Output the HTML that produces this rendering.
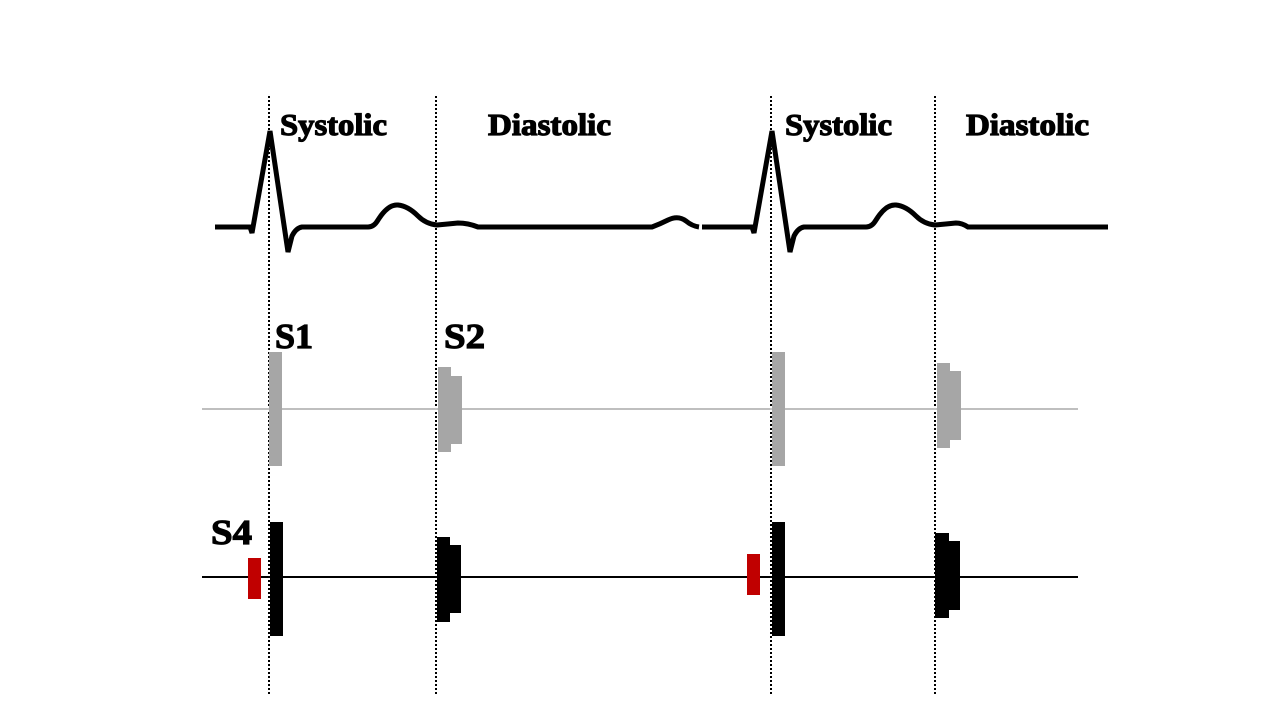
<!DOCTYPE html>
<html><head><meta charset="utf-8"><style>html,body{margin:0;padding:0;background:#fff;}svg{display:block}</style></head>
<body>
<svg width="1280" height="720" viewBox="0 0 1280 720" xmlns="http://www.w3.org/2000/svg">
<g stroke="#000" stroke-width="2" stroke-dasharray="2,2">
<line x1="269" y1="96" x2="269" y2="694"/>
<line x1="436" y1="96" x2="436" y2="694"/>
<line x1="771" y1="96" x2="771" y2="694"/>
<line x1="935" y1="96" x2="935" y2="694"/>
</g>
<g fill="none" stroke="#000" stroke-width="5" stroke-linejoin="miter">
<path d="M215,227 L250,227 L252,233 L270,131 L288,252 L292,236 Q296,228 302,227 L368,227 Q374,227 378,220 Q388,204 398,205 Q408,206 418,216 Q426,224 437,225 Q448,224 458,223 Q468,223 478,227 L652,227 Q660,224 668,220 Q678,215 686,221 Q692,226 699,227"/>
<path d="M702,227 L752,227 L754,233 L772,131 L790,252 L794,236 Q798,228 804,227 L866,227 Q872,227 876,220 Q886,204 896,205 Q906,206 916,216 Q924,224 935,225 Q946,224 956,223 Q962,223 968,227 L1108,227"/>
</g>
<g font-family="'Liberation Serif', serif" font-weight="bold" fill="#000" stroke="#000" stroke-width="1.2">
<text x="280" y="135" font-size="31" textLength="107" lengthAdjust="spacingAndGlyphs">Systolic</text>
<text x="488" y="135" font-size="31" textLength="123" lengthAdjust="spacingAndGlyphs">Diastolic</text>
<text x="785" y="135" font-size="31" textLength="107" lengthAdjust="spacingAndGlyphs">Systolic</text>
<text x="966" y="135" font-size="31" textLength="123" lengthAdjust="spacingAndGlyphs">Diastolic</text>
<text x="275" y="348" font-size="35" textLength="38" lengthAdjust="spacingAndGlyphs">S1</text>
<text x="444" y="348" font-size="35" textLength="41" lengthAdjust="spacingAndGlyphs">S2</text>
<text x="211" y="544" font-size="35" textLength="41" lengthAdjust="spacingAndGlyphs">S4</text>
</g>
<line x1="202" y1="409" x2="1078" y2="409" stroke="#bfbfbf" stroke-width="2"/>
<line x1="202" y1="577" x2="1078" y2="577" stroke="#000" stroke-width="2"/>
<g fill="#a6a6a6">
<rect x="269" y="352" width="13" height="114"/>
<rect x="438" y="367" width="13" height="85"/>
<rect x="451" y="376" width="11" height="68"/>
<rect x="772" y="352" width="13" height="114"/>
<rect x="937" y="363" width="13" height="85"/>
<rect x="950" y="371" width="11" height="69"/>
</g>
<g fill="#000">
<rect x="270" y="522" width="13" height="114"/>
<rect x="437" y="537" width="13" height="85"/>
<rect x="450" y="545" width="11" height="68"/>
<rect x="772" y="522" width="13" height="114"/>
<rect x="935" y="533" width="14" height="85"/>
<rect x="949" y="541" width="11" height="69"/>
</g>
<g fill="#c00000">
<rect x="248" y="558" width="13" height="41"/>
<rect x="747" y="554" width="13" height="41"/>
</g>
</svg>
</body></html>
